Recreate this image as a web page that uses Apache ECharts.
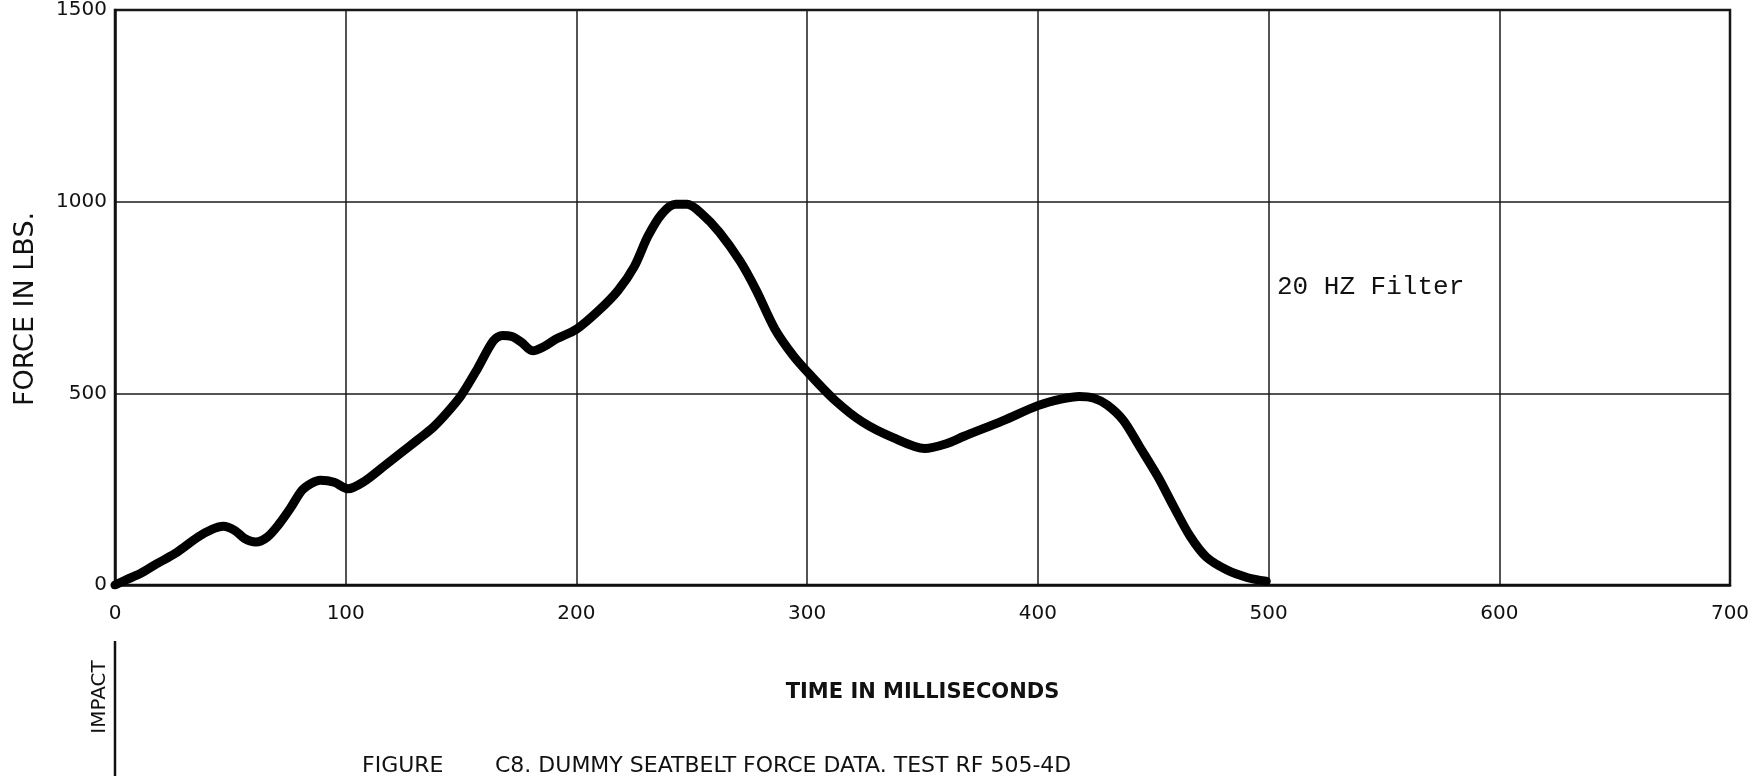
<!DOCTYPE html>
<html>
<head>
<meta charset="utf-8">
<script src="https://cdn.jsdelivr.net/npm/echarts@6/dist/echarts.min.js"></script>
<style>
  html, body { margin: 0; padding: 0; background: #fff; }
  #chart { width: 1764px; height: 776px; }
</style>
</head>
<body>
<div id="chart"></div>
<script>
// Seatbelt force trace, time (ms) vs force (lbs)
const timeMs = [0, 5, 11, 18, 26, 36, 42, 47, 52, 56, 61, 66, 71, 76, 81, 85, 89, 95, 101, 108,
  116, 124, 131, 138, 144, 150, 157, 164, 168, 172, 176, 181, 186, 191, 200, 210, 218, 225, 231, 237,
  243, 248, 254, 262, 271, 278, 286, 294, 301, 312, 324, 337, 351, 360, 368, 385, 400, 410,
  418, 424, 430, 437, 444, 452, 459, 466, 473, 482, 491, 499];
const forceLbs = [0, 14, 30, 55, 82, 125, 145, 153, 142, 122, 112, 125, 158, 200, 247, 265, 273, 268, 251, 270,
  307, 345, 378, 412, 450, 494, 563, 637, 651, 648, 634, 611, 622, 641, 667, 718, 768, 830, 910, 968,
  993, 993, 970, 920, 844, 768, 668, 598, 550, 482, 425, 385, 356, 368, 388, 429, 468, 485,
  492, 488, 470, 430, 362, 283, 203, 127, 73, 39, 19, 10];
const xTicks = [0, 100, 200, 300, 400, 500, 600, 700];
const yTicks = [0, 500, 1000, 1500];

const points = timeMs.map((t, i) => [t, forceLbs[i]]);
const labelFont = '"DejaVu Sans", sans-serif';

const chart = echarts.init(document.getElementById('chart'), null, { renderer: 'canvas' });
chart.setOption({
  backgroundColor: '#ffffff',
  animation: false,
  grid: {
    left: 115, right: 34, top: 7, bottom: 191,
    show: true, borderColor: '#111', borderWidth: 2.5, backgroundColor: 'transparent'
  },
  xAxis: {
    type: 'value', min: xTicks[0], max: xTicks[xTicks.length - 1], interval: 100,
    name: 'TIME IN MILLISECONDS', nameLocation: 'middle', nameGap: 97,
    nameTextStyle: { fontFamily: labelFont, fontSize: 21, fontWeight: 'bold', color: '#111' },
    axisLine: { show: true, lineStyle: { color: '#111', width: 2.5 } },
    axisTick: { show: false },
    axisLabel: { fontFamily: labelFont, fontSize: 20, color: '#111', margin: 19,
      formatter: v => String(v) },
    splitLine: { show: true, lineStyle: { color: '#1a1a1a', width: 1.5 } }
  },
  yAxis: {
    type: 'value', min: yTicks[0], max: yTicks[yTicks.length - 1], interval: 500,
    axisLine: { show: true, lineStyle: { color: '#111', width: 2.5 } },
    axisTick: { show: false },
    axisLabel: { fontFamily: labelFont, fontSize: 20, color: '#111', margin: 8,
      formatter: v => String(v) },
    splitLine: { show: true, lineStyle: { color: '#1a1a1a', width: 1.5 } }
  },
  series: [{
    type: 'line',
    data: points,
    smooth: 0.3,
    showSymbol: false,
    lineStyle: { color: '#000', width: 9, cap: 'round', join: 'round' }
  }],
  graphic: [
    {
      // vertical axis title
      type: 'text', x: 26, y: 309, rotation: Math.PI / 2,
      style: { text: 'FORCE IN LBS.', font: '27px "DejaVu Sans", sans-serif', fill: '#111',
        align: 'center', verticalAlign: 'middle' }
    },
    {
      type: 'text', left: 1277, top: 274,
      style: { text: '20 HZ Filter', font: '26px "Liberation Mono", monospace', fill: '#111' }
    },
    {
      type: 'text', x: 100, y: 697, rotation: Math.PI / 2,
      style: { text: 'IMPACT', font: '20px "DejaVu Sans", sans-serif', fill: '#111',
        align: 'center', verticalAlign: 'middle' }
    },
    {
      type: 'line', shape: { x1: 115, y1: 641, x2: 115, y2: 776 },
      style: { stroke: '#111', lineWidth: 2.5 }
    },
    {
      type: 'text', left: 362, top: 755,
      style: { text: 'FIGURE', font: '22px "DejaVu Sans", sans-serif', fill: '#111' }
    },
    {
      type: 'text', left: 495, top: 755,
      style: { text: 'C8. DUMMY SEATBELT FORCE DATA. TEST RF 505-4D', font: '22px "DejaVu Sans", sans-serif', fill: '#111' }
    }
  ]
});
</script>
</body>
</html>
